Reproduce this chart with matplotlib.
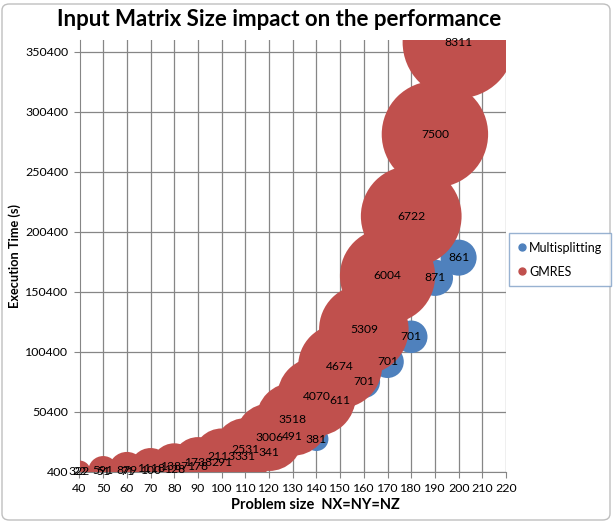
import numpy as np
import matplotlib.pyplot as plt
from matplotlib.patches import FancyBboxPatch
from matplotlib.lines import Line2D

# problem size NX=NY=NZ
sizes = [40, 50, 60, 70, 80, 90, 100, 110, 120, 130, 140, 150, 160, 170, 180, 190, 200]

# execution time (y) and bubble values (labels)
gmres_time = [500, 1000, 1700, 3000, 5000, 7900, 12900, 19300, 29100, 44100,
              62900, 88500, 119100, 163700, 213500, 281800, 358500]
gmres_bubble = [322, 591, 879, 1118, 1387, 1738, 2113, 2531, 3006, 3518,
                4070, 4674, 5309, 6004, 6722, 7500, 8311]

multi_time = [450, 600, 900, 1300, 2500, 4500, 8200, 12900, 16200, 29600,
              27650, 59600, 75400, 92100, 112900, 162100, 178900]
multi_bubble = [22, 51, 71, 100, 128, 178, 291, 331, 341, 491,
                381, 611, 701, 701, 701, 871, 861]

xticks = list(range(40, 221, 10))
yticks = list(range(400, 350401, 50000))

blue = '#4F81BD'
red = '#C0504D'
grid_col = '#868686'
font = ['Lato', 'DejaVu Sans']
plt.rcParams['font.family'] = font

W, H, DPI = 613, 524, 100
fig = plt.figure(figsize=(W / DPI, H / DPI), dpi=DPI)

# plot area in pixels: left 79.5, right 506, top 40, bottom 471.7
ax = fig.add_axes([79.5 / W, (H - 471.7) / H, (506 - 79.5) / W, (471.7 - 40) / H])

# excel style bubble area: largest bubble ~112 px across
vmax = max(max(gmres_bubble), max(multi_bubble))
dmax_pt = 112 * 72.0 / DPI


def bubble_area(v):
    return (dmax_pt ** 2) * np.asarray(v, dtype=float) / vmax


ax.scatter(sizes, multi_time, s=bubble_area(multi_bubble), color=blue,
           edgecolors='none', zorder=3)
ax.scatter(sizes, gmres_time, s=bubble_area(gmres_bubble), color=red,
           edgecolors='none', zorder=4)

for x, y, v in zip(sizes, multi_time, multi_bubble):
    ax.text(x, y, str(v), ha='center', va='center', fontsize=8.7,
            color='black', zorder=6, clip_on=False)
for x, y, v in zip(sizes, gmres_time, gmres_bubble):
    ax.text(x, y, str(v), ha='center', va='center', fontsize=8.7,
            color='black', zorder=6, clip_on=False)

ax.set_xlim(40, 220)
ax.set_ylim(400, 360400)
ax.set_xticks(xticks)
ax.set_yticks(yticks)
ax.grid(True, color=grid_col, linewidth=0.9)
ax.set_axisbelow(True)
for side in ['top', 'right']:
    ax.spines[side].set_visible(False)
for side in ['left', 'bottom']:
    ax.spines[side].set_color(grid_col)
ax.tick_params(direction='out', length=4, color=grid_col, labelsize=8.9,
               pad=4)

fig.text(279 / W, 1 - 19 / H, 'Input Matrix Size impact on the performance',
         ha='center', va='center', fontsize=16, fontweight='bold')
fig.text(315 / W, 1 - 505 / H, 'Problem size  NX=NY=NZ', ha='center',
         va='center', fontsize=10.5, fontweight='bold')
fig.text(15 / W, 1 - 256 / H, 'Execution Time (s)', ha='center', va='center',
         rotation=90, fontsize=9.2, fontweight='bold')

handles = [Line2D([], [], marker='o', linestyle='none', color=blue, markersize=5),
           Line2D([], [], marker='o', linestyle='none', color=red, markersize=5)]
leg = fig.legend(handles, ['Multisplitting', 'GMRES'], loc='upper left',
                 bbox_to_anchor=(509 / W, 1 - 233 / H), fontsize=9,
                 frameon=True, fancybox=False, handlelength=0.6,
                 handletextpad=0.3, borderpad=0.7, labelspacing=0.95,
                 borderaxespad=0)
leg.get_frame().set_edgecolor('#7F9FC6')
leg.get_frame().set_linewidth(1.0)

# chart border
border = FancyBboxPatch((2 / W, 4 / H), 608 / W, 516 / H,
                        boxstyle='round,pad=0,rounding_size=0.012',
                        transform=fig.transFigure, facecolor='none',
                        edgecolor='#BFBFBF', linewidth=1.0)
fig.patches.append(border)

fig.savefig('out.png', dpi=DPI)
